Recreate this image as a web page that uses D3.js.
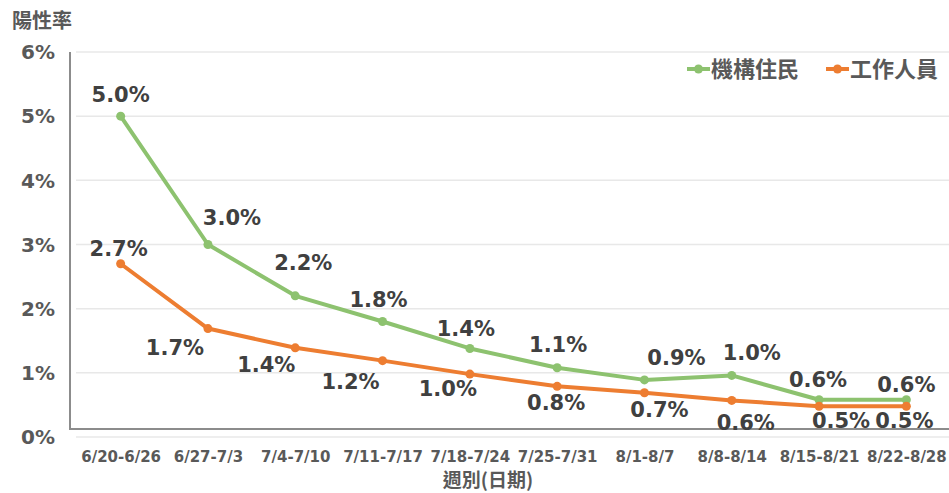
<!DOCTYPE html>
<html>
<head>
<meta charset="utf-8">
<script src="https://cdn.jsdelivr.net/npm/d3@7"></script>
<style>
  body { margin: 0; background: #fff; }
  text { font-family: "DejaVu Sans", "Noto Sans CJK TC", sans-serif; font-weight: bold; }
  .cjk { font-family: "Noto Sans CJK TC", sans-serif; }
</style>
</head>
<body>
<div id="chart"></div>
<script>
// weeks on the x axis
const weeks = ['6/20-6/26', '6/27-7/3', '7/4-7/10', '7/11-7/17', '7/18-7/24',
               '7/25-7/31', '8/1-8/7', '8/8-8/14', '8/15-8/21', '8/22-8/28'];
// positivity rate (%), residents of institutions
const residents = [5.0, 3.0, 2.2, 1.8, 1.38, 1.08, 0.89, 0.96, 0.58, 0.58];
// positivity rate (%), staff
const staff = [2.7, 1.69, 1.39, 1.19, 0.98, 0.79, 0.69, 0.57, 0.48, 0.48];
const yTicks = [0, 1, 2, 3, 4, 5, 6];
const seriesNames = ['機構住民', '工作人員'];

// label placement tweaks (px offsets from the point)
const resLabelDx = [0, 24, 8, -4, -4, 1, 32, 20, -1, 0];
const resLabelDy = [-22, -27, -33, -22, -20, -23, -22, -23, -20, -15];
const staffLabelDx = [-2, -33, -29, -32, -22, -1, 15, 14, 22, -2];
const staffLabelDy = [-15, 19, 17, 21, 14, 16, 17, 22, 14, 14];

const width = 949, height = 493;
const green = '#8dc26f', orange = '#ed7d31';

let svg = d3.select('#chart').append('svg')
    .attr('width', width)
    .attr('height', height);

let x = d3.scalePoint().domain(weeks).range([77, 950]).padding(0.5);
let y = d3.scaleLinear().domain([0, 6]).range([437, 52]);

// gridlines
svg.append('g').selectAll('line')
    .data(yTicks)
    .enter().append('line')
    .attr('x1', 76).attr('x2', 949)
    .attr('y1', d => y(d)).attr('y2', d => y(d))
    .attr('stroke', '#e8e8e8')
    .attr('stroke-width', 1.5);

// y tick labels
svg.append('g').selectAll('text')
    .data(yTicks)
    .enter().append('text')
    .attr('x', 55)
    .attr('y', d => y(d))
    .attr('dy', '0.36em')
    .attr('text-anchor', 'end')
    .attr('font-size', 20)
    .attr('fill', '#595959')
    .text(d => d + '%');

// axis frame
svg.append('line')
    .attr('x1', 70).attr('x2', 70)
    .attr('y1', y(6)).attr('y2', y(0) - 8)
    .attr('stroke', '#8c8c8c').attr('stroke-width', 2);
svg.append('line')
    .attr('x1', 69).attr('x2', 949)
    .attr('y1', y(0) - 8).attr('y2', y(0) - 8)
    .attr('stroke', '#8c8c8c').attr('stroke-width', 2);

// x tick labels
let xAxis = svg.append('g')
    .attr('transform', 'translate(0,457)')
    .call(d3.axisBottom(x).tickSize(0).tickPadding(0));
xAxis.select('.domain').remove();
xAxis.selectAll('text')
    .attr('y', 0)
    .attr('dy', '0.35em')
    .attr('font-size', 15)
    .attr('font-family', '"DejaVu Sans", sans-serif')
    .attr('font-weight', 'bold')
    .attr('fill', '#595959');

// titles
svg.append('text')
    .attr('class', 'cjk')
    .attr('x', 12).attr('y', 28)
    .attr('font-size', 20)
    .attr('fill', '#595959')
    .text('陽性率');

svg.append('text')
    .attr('class', 'cjk')
    .attr('x', 488).attr('y', 487)
    .attr('text-anchor', 'middle')
    .attr('font-size', 19)
    .attr('fill', '#595959')
    .text('週別(日期)');

// lines
let line = d3.line()
    .x((d, i) => x(weeks[i]))
    .y(d => y(d));

function drawSeries(values, color, dxs, dys) {
    svg.append('path')
        .datum(values)
        .attr('d', line)
        .attr('fill', 'none')
        .attr('stroke', color)
        .attr('stroke-width', 4)
        .attr('stroke-linejoin', 'round');

    svg.append('g').selectAll('circle')
        .data(values)
        .enter().append('circle')
        .attr('cx', (d, i) => x(weeks[i]))
        .attr('cy', d => y(d))
        .attr('r', 4.5)
        .attr('fill', color);

    svg.append('g').selectAll('text')
        .data(values)
        .enter().append('text')
        .attr('x', (d, i) => x(weeks[i]) + dxs[i])
        .attr('y', (d, i) => y(d) + dys[i])
        .attr('dy', '0.36em')
        .attr('text-anchor', 'middle')
        .attr('font-size', 21)
        .attr('fill', '#404040')
        .text(d => d.toFixed(1) + '%');
}

drawSeries(residents, green, resLabelDx, resLabelDy);
drawSeries(staff, orange, staffLabelDx, staffLabelDy);

// legend
let legend = svg.append('g').attr('transform', 'translate(687,69)');
let items = legend.selectAll('g')
    .data(seriesNames)
    .enter().append('g')
    .attr('transform', (d, i) => 'translate(' + (i * 139) + ',0)');
items.append('line')
    .attr('x1', 0).attr('x2', 23)
    .attr('stroke', (d, i) => i == 0 ? green : orange)
    .attr('stroke-width', 4);
items.append('circle')
    .attr('cx', 11.5).attr('r', 4.5)
    .attr('fill', (d, i) => i == 0 ? green : orange);
items.append('text')
    .attr('class', 'cjk')
    .attr('x', 24)
    .attr('dy', '0.36em')
    .attr('font-size', 22)
    .attr('fill', '#595959')
    .text(d => d);
</script>
</body>
</html>
